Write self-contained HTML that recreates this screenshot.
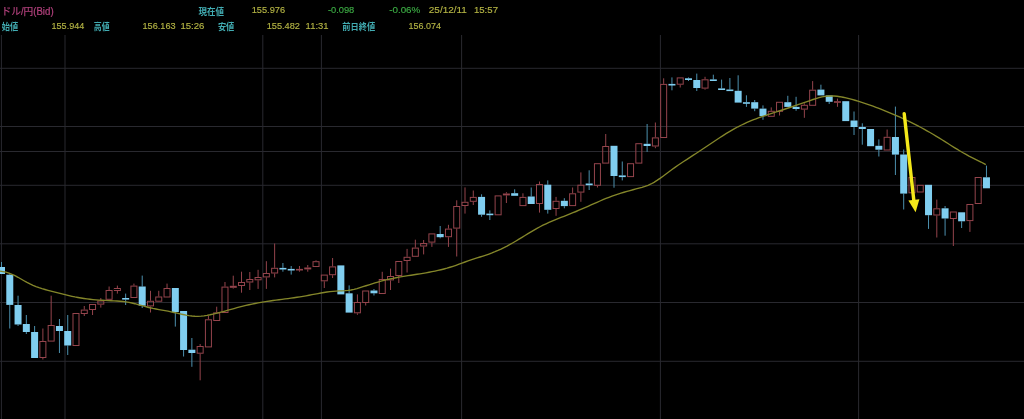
<!DOCTYPE html>
<html><head><meta charset="utf-8"><title>ドル/円 チャート</title>
<style>
html,body{margin:0;padding:0;background:#000;}
body{width:1024px;height:419px;overflow:hidden;}
svg{display:block;}
text{font-family:"Liberation Sans", "Noto Sans CJK JP", sans-serif;}
</style></head>
<body>
<svg width="1024" height="419" viewBox="0 0 1024 419">
<rect width="1024" height="419" fill="#000"/>
<g style="filter:blur(0.3px)">
<g>
<line x1="0" y1="68.3" x2="1024" y2="68.3" stroke="#29292f" stroke-width="1"/>
<line x1="0" y1="126.5" x2="1024" y2="126.5" stroke="#29292f" stroke-width="1"/>
<line x1="0" y1="151.5" x2="1024" y2="151.5" stroke="#29292f" stroke-width="1"/>
<line x1="0" y1="185.3" x2="1024" y2="185.3" stroke="#29292f" stroke-width="1"/>
<line x1="0" y1="243.8" x2="1024" y2="243.8" stroke="#29292f" stroke-width="1"/>
<line x1="0" y1="302.5" x2="1024" y2="302.5" stroke="#29292f" stroke-width="1"/>
<line x1="0" y1="361.3" x2="1024" y2="361.3" stroke="#29292f" stroke-width="1"/>
<line x1="1.4" y1="35" x2="1.4" y2="419" stroke="#29292f" stroke-width="1"/>
<line x1="65.0" y1="35" x2="65.0" y2="419" stroke="#29292f" stroke-width="1"/>
<line x1="262.8" y1="35" x2="262.8" y2="419" stroke="#29292f" stroke-width="1"/>
<line x1="321.4" y1="35" x2="321.4" y2="419" stroke="#29292f" stroke-width="1"/>
<line x1="461.6" y1="35" x2="461.6" y2="419" stroke="#29292f" stroke-width="1"/>
<line x1="660.4" y1="35" x2="660.4" y2="419" stroke="#29292f" stroke-width="1"/>
<line x1="858.6" y1="35" x2="858.6" y2="419" stroke="#29292f" stroke-width="1"/>
</g>
<g>
<line x1="1.50" y1="262.0" x2="1.50" y2="267.0" stroke="#4c90ae" stroke-width="1"/>
<rect x="-2.00" y="267.0" width="7.0" height="7.0" fill="#80cef0"/>
<line x1="9.78" y1="274.0" x2="9.78" y2="274.7" stroke="#4c90ae" stroke-width="1"/>
<line x1="9.78" y1="304.9" x2="9.78" y2="328.5" stroke="#4c90ae" stroke-width="1"/>
<rect x="6.28" y="274.7" width="7.0" height="30.2" fill="#80cef0"/>
<line x1="18.05" y1="295.7" x2="18.05" y2="305.0" stroke="#4c90ae" stroke-width="1"/>
<line x1="18.05" y1="324.5" x2="18.05" y2="326.0" stroke="#4c90ae" stroke-width="1"/>
<rect x="14.55" y="305.0" width="7.0" height="19.5" fill="#80cef0"/>
<line x1="26.33" y1="315.0" x2="26.33" y2="324.0" stroke="#4c90ae" stroke-width="1"/>
<line x1="26.33" y1="332.0" x2="26.33" y2="334.0" stroke="#4c90ae" stroke-width="1"/>
<rect x="22.83" y="324.0" width="7.0" height="8.0" fill="#80cef0"/>
<line x1="34.61" y1="326.0" x2="34.61" y2="332.0" stroke="#4c90ae" stroke-width="1"/>
<rect x="31.11" y="332.0" width="7.0" height="26.0" fill="#80cef0"/>
<line x1="42.88" y1="328.5" x2="42.88" y2="341.0" stroke="#94444c" stroke-width="1"/>
<line x1="42.88" y1="358.0" x2="42.88" y2="359.5" stroke="#94444c" stroke-width="1"/>
<rect x="39.88" y="341.5" width="6.0" height="16.0" fill="none" stroke="#94444c" stroke-width="1"/>
<line x1="51.16" y1="295.7" x2="51.16" y2="325.0" stroke="#94444c" stroke-width="1"/>
<rect x="48.16" y="325.5" width="6.0" height="15.6" fill="none" stroke="#94444c" stroke-width="1"/>
<line x1="59.44" y1="319.0" x2="59.44" y2="326.0" stroke="#4c90ae" stroke-width="1"/>
<line x1="59.44" y1="331.0" x2="59.44" y2="353.0" stroke="#4c90ae" stroke-width="1"/>
<rect x="55.94" y="326.0" width="7.0" height="5.0" fill="#80cef0"/>
<line x1="67.72" y1="315.0" x2="67.72" y2="331.0" stroke="#4c90ae" stroke-width="1"/>
<line x1="67.72" y1="345.5" x2="67.72" y2="355.0" stroke="#4c90ae" stroke-width="1"/>
<rect x="64.22" y="331.0" width="7.0" height="14.5" fill="#80cef0"/>
<rect x="72.99" y="313.5" width="6.0" height="32.0" fill="none" stroke="#94444c" stroke-width="1"/>
<line x1="84.27" y1="306.0" x2="84.27" y2="309.6" stroke="#94444c" stroke-width="1"/>
<line x1="84.27" y1="314.0" x2="84.27" y2="316.0" stroke="#94444c" stroke-width="1"/>
<rect x="81.27" y="310.1" width="6.0" height="3.4" fill="none" stroke="#94444c" stroke-width="1"/>
<line x1="92.55" y1="310.0" x2="92.55" y2="315.0" stroke="#94444c" stroke-width="1"/>
<rect x="89.55" y="304.5" width="6.0" height="5.0" fill="none" stroke="#94444c" stroke-width="1"/>
<line x1="100.82" y1="298.0" x2="100.82" y2="300.5" stroke="#94444c" stroke-width="1"/>
<line x1="100.82" y1="304.6" x2="100.82" y2="307.6" stroke="#94444c" stroke-width="1"/>
<rect x="97.82" y="301.0" width="6.0" height="3.1" fill="none" stroke="#94444c" stroke-width="1"/>
<line x1="109.10" y1="286.5" x2="109.10" y2="290.0" stroke="#94444c" stroke-width="1"/>
<rect x="106.10" y="290.5" width="6.0" height="8.8" fill="none" stroke="#94444c" stroke-width="1"/>
<line x1="117.38" y1="285.6" x2="117.38" y2="288.0" stroke="#94444c" stroke-width="1"/>
<line x1="117.38" y1="291.0" x2="117.38" y2="293.6" stroke="#94444c" stroke-width="1"/>
<rect x="114.38" y="288.5" width="6.0" height="2.0" fill="none" stroke="#94444c" stroke-width="1"/>
<line x1="125.65" y1="293.6" x2="125.65" y2="298.0" stroke="#4c90ae" stroke-width="1"/>
<line x1="125.65" y1="299.4" x2="125.65" y2="305.0" stroke="#4c90ae" stroke-width="1"/>
<rect x="122.15" y="298.0" width="7.0" height="1.6" fill="#80cef0"/>
<line x1="133.93" y1="283.6" x2="133.93" y2="285.6" stroke="#94444c" stroke-width="1"/>
<rect x="130.93" y="286.1" width="6.0" height="11.4" fill="none" stroke="#94444c" stroke-width="1"/>
<line x1="142.21" y1="275.6" x2="142.21" y2="286.5" stroke="#4c90ae" stroke-width="1"/>
<line x1="142.21" y1="305.7" x2="142.21" y2="308.0" stroke="#4c90ae" stroke-width="1"/>
<rect x="138.71" y="286.5" width="7.0" height="19.2" fill="#80cef0"/>
<line x1="150.49" y1="290.8" x2="150.49" y2="300.8" stroke="#94444c" stroke-width="1"/>
<line x1="150.49" y1="306.4" x2="150.49" y2="312.5" stroke="#94444c" stroke-width="1"/>
<rect x="147.49" y="301.3" width="6.0" height="4.6" fill="none" stroke="#94444c" stroke-width="1"/>
<line x1="158.76" y1="290.8" x2="158.76" y2="296.5" stroke="#94444c" stroke-width="1"/>
<rect x="155.76" y="297.0" width="6.0" height="4.2" fill="none" stroke="#94444c" stroke-width="1"/>
<line x1="167.04" y1="283.6" x2="167.04" y2="288.0" stroke="#94444c" stroke-width="1"/>
<rect x="164.04" y="288.5" width="6.0" height="8.5" fill="none" stroke="#94444c" stroke-width="1"/>
<line x1="175.32" y1="312.0" x2="175.32" y2="326.6" stroke="#4c90ae" stroke-width="1"/>
<rect x="171.82" y="288.0" width="7.0" height="24.0" fill="#80cef0"/>
<line x1="183.59" y1="350.0" x2="183.59" y2="356.5" stroke="#4c90ae" stroke-width="1"/>
<rect x="180.09" y="311.0" width="7.0" height="39.0" fill="#80cef0"/>
<line x1="191.87" y1="338.0" x2="191.87" y2="349.7" stroke="#4c90ae" stroke-width="1"/>
<line x1="191.87" y1="353.0" x2="191.87" y2="366.8" stroke="#4c90ae" stroke-width="1"/>
<rect x="188.37" y="349.7" width="7.0" height="3.3" fill="#80cef0"/>
<line x1="200.15" y1="344.0" x2="200.15" y2="346.0" stroke="#94444c" stroke-width="1"/>
<line x1="200.15" y1="353.7" x2="200.15" y2="380.3" stroke="#94444c" stroke-width="1"/>
<rect x="197.15" y="346.5" width="6.0" height="6.7" fill="none" stroke="#94444c" stroke-width="1"/>
<line x1="208.42" y1="315.8" x2="208.42" y2="319.3" stroke="#94444c" stroke-width="1"/>
<rect x="205.42" y="319.8" width="6.0" height="27.1" fill="none" stroke="#94444c" stroke-width="1"/>
<line x1="216.70" y1="306.7" x2="216.70" y2="312.4" stroke="#94444c" stroke-width="1"/>
<rect x="213.70" y="312.9" width="6.0" height="7.6" fill="none" stroke="#94444c" stroke-width="1"/>
<line x1="224.98" y1="282.0" x2="224.98" y2="286.6" stroke="#94444c" stroke-width="1"/>
<rect x="221.98" y="287.1" width="6.0" height="25.4" fill="none" stroke="#94444c" stroke-width="1"/>
<line x1="233.26" y1="275.7" x2="233.26" y2="285.8" stroke="#94444c" stroke-width="1"/>
<line x1="233.26" y1="287.8" x2="233.26" y2="288.6" stroke="#94444c" stroke-width="1"/>
<rect x="230.26" y="286.3" width="6.0" height="1.0" fill="none" stroke="#94444c" stroke-width="1"/>
<line x1="241.53" y1="271.7" x2="241.53" y2="282.0" stroke="#94444c" stroke-width="1"/>
<line x1="241.53" y1="286.0" x2="241.53" y2="292.7" stroke="#94444c" stroke-width="1"/>
<rect x="238.53" y="282.5" width="6.0" height="3.0" fill="none" stroke="#94444c" stroke-width="1"/>
<line x1="249.81" y1="272.0" x2="249.81" y2="279.0" stroke="#94444c" stroke-width="1"/>
<line x1="249.81" y1="282.5" x2="249.81" y2="290.0" stroke="#94444c" stroke-width="1"/>
<rect x="246.81" y="279.5" width="6.0" height="2.5" fill="none" stroke="#94444c" stroke-width="1"/>
<line x1="258.09" y1="269.8" x2="258.09" y2="277.0" stroke="#94444c" stroke-width="1"/>
<line x1="258.09" y1="280.3" x2="258.09" y2="288.9" stroke="#94444c" stroke-width="1"/>
<rect x="255.09" y="277.5" width="6.0" height="2.3" fill="none" stroke="#94444c" stroke-width="1"/>
<line x1="266.36" y1="261.2" x2="266.36" y2="273.0" stroke="#94444c" stroke-width="1"/>
<line x1="266.36" y1="277.4" x2="266.36" y2="288.9" stroke="#94444c" stroke-width="1"/>
<rect x="263.36" y="273.5" width="6.0" height="3.4" fill="none" stroke="#94444c" stroke-width="1"/>
<line x1="274.64" y1="243.5" x2="274.64" y2="267.8" stroke="#94444c" stroke-width="1"/>
<line x1="274.64" y1="273.5" x2="274.64" y2="277.4" stroke="#94444c" stroke-width="1"/>
<rect x="271.64" y="268.3" width="6.0" height="4.7" fill="none" stroke="#94444c" stroke-width="1"/>
<line x1="282.92" y1="263.0" x2="282.92" y2="267.9" stroke="#4c90ae" stroke-width="1"/>
<line x1="282.92" y1="269.2" x2="282.92" y2="271.7" stroke="#4c90ae" stroke-width="1"/>
<rect x="279.42" y="267.9" width="7.0" height="1.6" fill="#80cef0"/>
<line x1="291.19" y1="266.0" x2="291.19" y2="268.9" stroke="#4c90ae" stroke-width="1"/>
<line x1="291.19" y1="270.2" x2="291.19" y2="274.6" stroke="#4c90ae" stroke-width="1"/>
<rect x="287.69" y="268.9" width="7.0" height="1.6" fill="#80cef0"/>
<line x1="299.47" y1="266.0" x2="299.47" y2="268.9" stroke="#94444c" stroke-width="1"/>
<line x1="299.47" y1="270.2" x2="299.47" y2="271.7" stroke="#94444c" stroke-width="1"/>
<rect x="296.47" y="269.4" width="6.0" height="0.6" fill="none" stroke="#94444c" stroke-width="1"/>
<line x1="307.75" y1="265.0" x2="307.75" y2="267.5" stroke="#94444c" stroke-width="1"/>
<line x1="307.75" y1="269.4" x2="307.75" y2="271.7" stroke="#94444c" stroke-width="1"/>
<rect x="304.75" y="268.0" width="6.0" height="0.9" fill="none" stroke="#94444c" stroke-width="1"/>
<line x1="316.03" y1="260.3" x2="316.03" y2="261.2" stroke="#94444c" stroke-width="1"/>
<rect x="313.03" y="261.7" width="6.0" height="4.8" fill="none" stroke="#94444c" stroke-width="1"/>
<line x1="324.30" y1="281.3" x2="324.30" y2="288.0" stroke="#94444c" stroke-width="1"/>
<rect x="321.30" y="275.1" width="6.0" height="5.7" fill="none" stroke="#94444c" stroke-width="1"/>
<line x1="332.58" y1="258.0" x2="332.58" y2="266.4" stroke="#94444c" stroke-width="1"/>
<line x1="332.58" y1="275.2" x2="332.58" y2="278.0" stroke="#94444c" stroke-width="1"/>
<rect x="329.58" y="266.9" width="6.0" height="7.8" fill="none" stroke="#94444c" stroke-width="1"/>
<rect x="337.36" y="265.4" width="7.0" height="29.0" fill="#80cef0"/>
<line x1="349.13" y1="285.4" x2="349.13" y2="293.3" stroke="#4c90ae" stroke-width="1"/>
<rect x="345.63" y="293.3" width="7.0" height="19.3" fill="#80cef0"/>
<line x1="357.41" y1="294.4" x2="357.41" y2="302.0" stroke="#94444c" stroke-width="1"/>
<line x1="357.41" y1="313.3" x2="357.41" y2="314.8" stroke="#94444c" stroke-width="1"/>
<rect x="354.41" y="302.5" width="6.0" height="10.3" fill="none" stroke="#94444c" stroke-width="1"/>
<line x1="365.69" y1="303.0" x2="365.69" y2="305.5" stroke="#94444c" stroke-width="1"/>
<rect x="362.69" y="291.0" width="6.0" height="11.5" fill="none" stroke="#94444c" stroke-width="1"/>
<line x1="373.96" y1="289.0" x2="373.96" y2="290.5" stroke="#4c90ae" stroke-width="1"/>
<line x1="373.96" y1="293.3" x2="373.96" y2="295.5" stroke="#4c90ae" stroke-width="1"/>
<rect x="370.46" y="290.5" width="7.0" height="2.8" fill="#80cef0"/>
<line x1="382.24" y1="271.8" x2="382.24" y2="279.0" stroke="#94444c" stroke-width="1"/>
<rect x="379.24" y="279.5" width="6.0" height="14.0" fill="none" stroke="#94444c" stroke-width="1"/>
<line x1="390.52" y1="268.6" x2="390.52" y2="276.0" stroke="#94444c" stroke-width="1"/>
<line x1="390.52" y1="280.4" x2="390.52" y2="290.0" stroke="#94444c" stroke-width="1"/>
<rect x="387.52" y="276.5" width="6.0" height="3.4" fill="none" stroke="#94444c" stroke-width="1"/>
<line x1="398.80" y1="276.0" x2="398.80" y2="283.0" stroke="#94444c" stroke-width="1"/>
<rect x="395.80" y="261.5" width="6.0" height="14.0" fill="none" stroke="#94444c" stroke-width="1"/>
<line x1="407.07" y1="248.9" x2="407.07" y2="256.8" stroke="#94444c" stroke-width="1"/>
<line x1="407.07" y1="261.0" x2="407.07" y2="272.5" stroke="#94444c" stroke-width="1"/>
<rect x="404.07" y="257.3" width="6.0" height="3.2" fill="none" stroke="#94444c" stroke-width="1"/>
<line x1="415.35" y1="239.7" x2="415.35" y2="247.6" stroke="#94444c" stroke-width="1"/>
<rect x="412.35" y="248.1" width="6.0" height="8.2" fill="none" stroke="#94444c" stroke-width="1"/>
<line x1="423.63" y1="240.0" x2="423.63" y2="243.0" stroke="#94444c" stroke-width="1"/>
<line x1="423.63" y1="246.5" x2="423.63" y2="254.4" stroke="#94444c" stroke-width="1"/>
<rect x="420.63" y="243.5" width="6.0" height="2.5" fill="none" stroke="#94444c" stroke-width="1"/>
<line x1="431.90" y1="242.6" x2="431.90" y2="246.9" stroke="#94444c" stroke-width="1"/>
<rect x="428.90" y="233.9" width="6.0" height="8.2" fill="none" stroke="#94444c" stroke-width="1"/>
<line x1="440.18" y1="226.0" x2="440.18" y2="234.0" stroke="#4c90ae" stroke-width="1"/>
<line x1="440.18" y1="237.2" x2="440.18" y2="238.3" stroke="#4c90ae" stroke-width="1"/>
<rect x="436.68" y="234.0" width="7.0" height="3.2" fill="#80cef0"/>
<line x1="448.46" y1="224.8" x2="448.46" y2="228.6" stroke="#94444c" stroke-width="1"/>
<line x1="448.46" y1="237.2" x2="448.46" y2="246.9" stroke="#94444c" stroke-width="1"/>
<rect x="445.46" y="229.1" width="6.0" height="7.6" fill="none" stroke="#94444c" stroke-width="1"/>
<line x1="456.73" y1="200.3" x2="456.73" y2="206.0" stroke="#94444c" stroke-width="1"/>
<line x1="456.73" y1="228.6" x2="456.73" y2="256.5" stroke="#94444c" stroke-width="1"/>
<rect x="453.73" y="206.5" width="6.0" height="21.6" fill="none" stroke="#94444c" stroke-width="1"/>
<line x1="465.01" y1="187.4" x2="465.01" y2="201.8" stroke="#94444c" stroke-width="1"/>
<line x1="465.01" y1="206.0" x2="465.01" y2="213.6" stroke="#94444c" stroke-width="1"/>
<rect x="462.01" y="202.3" width="6.0" height="3.2" fill="none" stroke="#94444c" stroke-width="1"/>
<line x1="473.29" y1="190.5" x2="473.29" y2="196.9" stroke="#94444c" stroke-width="1"/>
<line x1="473.29" y1="201.8" x2="473.29" y2="205.0" stroke="#94444c" stroke-width="1"/>
<rect x="470.29" y="197.4" width="6.0" height="3.9" fill="none" stroke="#94444c" stroke-width="1"/>
<line x1="481.57" y1="194.3" x2="481.57" y2="196.9" stroke="#4c90ae" stroke-width="1"/>
<line x1="481.57" y1="214.7" x2="481.57" y2="216.8" stroke="#4c90ae" stroke-width="1"/>
<rect x="478.07" y="196.9" width="7.0" height="17.8" fill="#80cef0"/>
<line x1="489.84" y1="210.4" x2="489.84" y2="213.6" stroke="#4c90ae" stroke-width="1"/>
<line x1="489.84" y1="215.1" x2="489.84" y2="220.0" stroke="#4c90ae" stroke-width="1"/>
<rect x="486.34" y="213.6" width="7.0" height="1.6" fill="#80cef0"/>
<rect x="495.12" y="195.9" width="6.0" height="18.9" fill="none" stroke="#94444c" stroke-width="1"/>
<line x1="506.40" y1="192.2" x2="506.40" y2="193.5" stroke="#94444c" stroke-width="1"/>
<line x1="506.40" y1="195.4" x2="506.40" y2="203.0" stroke="#94444c" stroke-width="1"/>
<rect x="503.40" y="194.0" width="6.0" height="0.9" fill="none" stroke="#94444c" stroke-width="1"/>
<line x1="514.67" y1="189.3" x2="514.67" y2="193.2" stroke="#4c90ae" stroke-width="1"/>
<rect x="511.17" y="193.2" width="7.0" height="2.6" fill="#80cef0"/>
<line x1="522.95" y1="193.3" x2="522.95" y2="196.9" stroke="#94444c" stroke-width="1"/>
<rect x="519.95" y="197.4" width="6.0" height="8.2" fill="none" stroke="#94444c" stroke-width="1"/>
<line x1="531.23" y1="187.5" x2="531.23" y2="196.5" stroke="#4c90ae" stroke-width="1"/>
<rect x="527.73" y="196.5" width="7.0" height="7.5" fill="#80cef0"/>
<line x1="539.50" y1="181.5" x2="539.50" y2="184.0" stroke="#94444c" stroke-width="1"/>
<line x1="539.50" y1="204.0" x2="539.50" y2="212.6" stroke="#94444c" stroke-width="1"/>
<rect x="536.50" y="184.5" width="6.0" height="19.0" fill="none" stroke="#94444c" stroke-width="1"/>
<line x1="547.78" y1="180.4" x2="547.78" y2="184.7" stroke="#4c90ae" stroke-width="1"/>
<line x1="547.78" y1="209.8" x2="547.78" y2="213.6" stroke="#4c90ae" stroke-width="1"/>
<rect x="544.28" y="184.7" width="7.0" height="25.1" fill="#80cef0"/>
<line x1="556.06" y1="196.9" x2="556.06" y2="200.8" stroke="#94444c" stroke-width="1"/>
<line x1="556.06" y1="209.0" x2="556.06" y2="215.8" stroke="#94444c" stroke-width="1"/>
<rect x="553.06" y="201.3" width="6.0" height="7.2" fill="none" stroke="#94444c" stroke-width="1"/>
<line x1="564.34" y1="198.2" x2="564.34" y2="200.8" stroke="#4c90ae" stroke-width="1"/>
<line x1="564.34" y1="206.1" x2="564.34" y2="208.3" stroke="#4c90ae" stroke-width="1"/>
<rect x="560.84" y="200.8" width="7.0" height="5.3" fill="#80cef0"/>
<line x1="572.61" y1="187.5" x2="572.61" y2="193.3" stroke="#94444c" stroke-width="1"/>
<rect x="569.61" y="193.8" width="6.0" height="11.8" fill="none" stroke="#94444c" stroke-width="1"/>
<line x1="580.89" y1="172.4" x2="580.89" y2="184.7" stroke="#94444c" stroke-width="1"/>
<line x1="580.89" y1="192.6" x2="580.89" y2="201.8" stroke="#94444c" stroke-width="1"/>
<rect x="577.89" y="185.2" width="6.0" height="6.9" fill="none" stroke="#94444c" stroke-width="1"/>
<line x1="589.17" y1="170.3" x2="589.17" y2="183.5" stroke="#4c90ae" stroke-width="1"/>
<line x1="589.17" y1="185.2" x2="589.17" y2="190.0" stroke="#4c90ae" stroke-width="1"/>
<rect x="585.67" y="183.5" width="7.0" height="1.7" fill="#80cef0"/>
<line x1="597.44" y1="185.8" x2="597.44" y2="187.5" stroke="#94444c" stroke-width="1"/>
<rect x="594.44" y="163.7" width="6.0" height="21.6" fill="none" stroke="#94444c" stroke-width="1"/>
<line x1="605.72" y1="134.0" x2="605.72" y2="146.0" stroke="#94444c" stroke-width="1"/>
<rect x="602.72" y="146.5" width="6.0" height="16.6" fill="none" stroke="#94444c" stroke-width="1"/>
<line x1="614.00" y1="176.0" x2="614.00" y2="187.7" stroke="#4c90ae" stroke-width="1"/>
<rect x="610.50" y="145.8" width="7.0" height="30.2" fill="#80cef0"/>
<line x1="622.27" y1="161.5" x2="622.27" y2="175.4" stroke="#4c90ae" stroke-width="1"/>
<line x1="622.27" y1="177.1" x2="622.27" y2="180.4" stroke="#4c90ae" stroke-width="1"/>
<rect x="618.77" y="175.4" width="7.0" height="1.7" fill="#80cef0"/>
<rect x="627.55" y="163.7" width="6.0" height="12.9" fill="none" stroke="#94444c" stroke-width="1"/>
<rect x="635.83" y="143.7" width="6.0" height="19.4" fill="none" stroke="#94444c" stroke-width="1"/>
<line x1="647.11" y1="124.0" x2="647.11" y2="143.8" stroke="#4c90ae" stroke-width="1"/>
<line x1="647.11" y1="146.0" x2="647.11" y2="151.9" stroke="#4c90ae" stroke-width="1"/>
<rect x="643.61" y="143.8" width="7.0" height="2.2" fill="#80cef0"/>
<line x1="655.38" y1="122.5" x2="655.38" y2="137.4" stroke="#94444c" stroke-width="1"/>
<line x1="655.38" y1="146.5" x2="655.38" y2="148.2" stroke="#94444c" stroke-width="1"/>
<rect x="652.38" y="137.9" width="6.0" height="8.1" fill="none" stroke="#94444c" stroke-width="1"/>
<line x1="663.66" y1="78.3" x2="663.66" y2="83.9" stroke="#94444c" stroke-width="1"/>
<rect x="660.66" y="84.4" width="6.0" height="53.1" fill="none" stroke="#94444c" stroke-width="1"/>
<line x1="671.94" y1="77.4" x2="671.94" y2="83.9" stroke="#4c90ae" stroke-width="1"/>
<line x1="671.94" y1="85.0" x2="671.94" y2="90.3" stroke="#4c90ae" stroke-width="1"/>
<rect x="668.44" y="83.9" width="7.0" height="1.6" fill="#80cef0"/>
<line x1="680.21" y1="84.7" x2="680.21" y2="87.5" stroke="#94444c" stroke-width="1"/>
<rect x="677.21" y="77.9" width="6.0" height="6.3" fill="none" stroke="#94444c" stroke-width="1"/>
<line x1="688.49" y1="77.4" x2="688.49" y2="78.3" stroke="#4c90ae" stroke-width="1"/>
<line x1="688.49" y1="80.0" x2="688.49" y2="81.0" stroke="#4c90ae" stroke-width="1"/>
<rect x="684.99" y="78.3" width="7.0" height="1.7" fill="#80cef0"/>
<line x1="696.77" y1="73.6" x2="696.77" y2="80.0" stroke="#4c90ae" stroke-width="1"/>
<line x1="696.77" y1="88.0" x2="696.77" y2="91.0" stroke="#4c90ae" stroke-width="1"/>
<rect x="693.27" y="80.0" width="7.0" height="8.0" fill="#80cef0"/>
<line x1="705.04" y1="76.8" x2="705.04" y2="79.3" stroke="#94444c" stroke-width="1"/>
<line x1="705.04" y1="88.6" x2="705.04" y2="89.7" stroke="#94444c" stroke-width="1"/>
<rect x="702.04" y="79.8" width="6.0" height="8.3" fill="none" stroke="#94444c" stroke-width="1"/>
<line x1="713.32" y1="74.7" x2="713.32" y2="79.4" stroke="#4c90ae" stroke-width="1"/>
<line x1="713.32" y1="80.5" x2="713.32" y2="81.0" stroke="#4c90ae" stroke-width="1"/>
<rect x="709.82" y="79.4" width="7.0" height="1.6" fill="#80cef0"/>
<line x1="721.60" y1="79.6" x2="721.60" y2="88.4" stroke="#4c90ae" stroke-width="1"/>
<rect x="718.10" y="88.4" width="7.0" height="1.6" fill="#80cef0"/>
<line x1="729.88" y1="78.0" x2="729.88" y2="89.5" stroke="#4c90ae" stroke-width="1"/>
<rect x="726.38" y="89.5" width="7.0" height="1.6" fill="#80cef0"/>
<line x1="738.15" y1="75.3" x2="738.15" y2="90.8" stroke="#4c90ae" stroke-width="1"/>
<rect x="734.65" y="90.8" width="7.0" height="11.8" fill="#80cef0"/>
<line x1="746.43" y1="95.3" x2="746.43" y2="102.2" stroke="#4c90ae" stroke-width="1"/>
<line x1="746.43" y1="103.3" x2="746.43" y2="106.9" stroke="#4c90ae" stroke-width="1"/>
<rect x="742.93" y="102.2" width="7.0" height="1.6" fill="#80cef0"/>
<line x1="754.71" y1="100.0" x2="754.71" y2="102.2" stroke="#4c90ae" stroke-width="1"/>
<line x1="754.71" y1="108.6" x2="754.71" y2="111.2" stroke="#4c90ae" stroke-width="1"/>
<rect x="751.21" y="102.2" width="7.0" height="6.4" fill="#80cef0"/>
<line x1="762.98" y1="105.4" x2="762.98" y2="108.6" stroke="#4c90ae" stroke-width="1"/>
<line x1="762.98" y1="116.1" x2="762.98" y2="119.8" stroke="#4c90ae" stroke-width="1"/>
<rect x="759.48" y="108.6" width="7.0" height="7.5" fill="#80cef0"/>
<line x1="771.26" y1="107.4" x2="771.26" y2="110.8" stroke="#94444c" stroke-width="1"/>
<rect x="768.26" y="111.3" width="6.0" height="5.0" fill="none" stroke="#94444c" stroke-width="1"/>
<line x1="779.54" y1="111.8" x2="779.54" y2="115.5" stroke="#94444c" stroke-width="1"/>
<rect x="776.54" y="102.3" width="6.0" height="9.0" fill="none" stroke="#94444c" stroke-width="1"/>
<line x1="787.81" y1="95.8" x2="787.81" y2="102.2" stroke="#4c90ae" stroke-width="1"/>
<rect x="784.31" y="102.2" width="7.0" height="4.7" fill="#80cef0"/>
<line x1="796.09" y1="96.8" x2="796.09" y2="106.9" stroke="#4c90ae" stroke-width="1"/>
<line x1="796.09" y1="109.0" x2="796.09" y2="110.8" stroke="#4c90ae" stroke-width="1"/>
<rect x="792.59" y="106.9" width="7.0" height="2.1" fill="#80cef0"/>
<line x1="804.37" y1="103.3" x2="804.37" y2="104.8" stroke="#94444c" stroke-width="1"/>
<line x1="804.37" y1="109.6" x2="804.37" y2="117.8" stroke="#94444c" stroke-width="1"/>
<rect x="801.37" y="105.3" width="6.0" height="3.8" fill="none" stroke="#94444c" stroke-width="1"/>
<line x1="812.65" y1="81.1" x2="812.65" y2="89.7" stroke="#94444c" stroke-width="1"/>
<rect x="809.65" y="90.2" width="6.0" height="15.1" fill="none" stroke="#94444c" stroke-width="1"/>
<line x1="820.92" y1="84.7" x2="820.92" y2="89.6" stroke="#4c90ae" stroke-width="1"/>
<rect x="817.42" y="89.6" width="7.0" height="5.8" fill="#80cef0"/>
<line x1="829.20" y1="101.8" x2="829.20" y2="104.0" stroke="#4c90ae" stroke-width="1"/>
<rect x="825.70" y="95.4" width="7.0" height="6.4" fill="#80cef0"/>
<line x1="837.48" y1="98.6" x2="837.48" y2="101.2" stroke="#94444c" stroke-width="1"/>
<line x1="837.48" y1="102.5" x2="837.48" y2="106.8" stroke="#94444c" stroke-width="1"/>
<rect x="834.48" y="101.7" width="6.0" height="0.6" fill="none" stroke="#94444c" stroke-width="1"/>
<rect x="842.25" y="101.2" width="7.0" height="19.9" fill="#80cef0"/>
<line x1="854.03" y1="111.5" x2="854.03" y2="120.5" stroke="#4c90ae" stroke-width="1"/>
<line x1="854.03" y1="127.0" x2="854.03" y2="135.0" stroke="#4c90ae" stroke-width="1"/>
<rect x="850.53" y="120.5" width="7.0" height="6.5" fill="#80cef0"/>
<line x1="862.31" y1="123.3" x2="862.31" y2="127.0" stroke="#4c90ae" stroke-width="1"/>
<line x1="862.31" y1="129.0" x2="862.31" y2="144.7" stroke="#4c90ae" stroke-width="1"/>
<rect x="858.81" y="127.0" width="7.0" height="2.0" fill="#80cef0"/>
<rect x="867.08" y="129.0" width="7.0" height="17.2" fill="#80cef0"/>
<line x1="878.86" y1="139.4" x2="878.86" y2="145.8" stroke="#4c90ae" stroke-width="1"/>
<line x1="878.86" y1="149.7" x2="878.86" y2="156.5" stroke="#4c90ae" stroke-width="1"/>
<rect x="875.36" y="145.8" width="7.0" height="3.9" fill="#80cef0"/>
<line x1="887.14" y1="129.5" x2="887.14" y2="136.8" stroke="#94444c" stroke-width="1"/>
<rect x="884.14" y="137.3" width="6.0" height="12.7" fill="none" stroke="#94444c" stroke-width="1"/>
<line x1="895.42" y1="106.6" x2="895.42" y2="137.0" stroke="#4c90ae" stroke-width="1"/>
<line x1="895.42" y1="154.6" x2="895.42" y2="175.0" stroke="#4c90ae" stroke-width="1"/>
<rect x="891.92" y="137.0" width="7.0" height="17.6" fill="#80cef0"/>
<line x1="903.69" y1="149.5" x2="903.69" y2="154.5" stroke="#4c90ae" stroke-width="1"/>
<line x1="903.69" y1="193.6" x2="903.69" y2="209.5" stroke="#4c90ae" stroke-width="1"/>
<rect x="900.19" y="154.5" width="7.0" height="39.1" fill="#80cef0"/>
<rect x="908.97" y="177.5" width="6.0" height="15.3" fill="none" stroke="#94444c" stroke-width="1"/>
<rect x="917.25" y="185.3" width="6.0" height="6.7" fill="none" stroke="#94444c" stroke-width="1"/>
<line x1="928.52" y1="215.2" x2="928.52" y2="228.9" stroke="#4c90ae" stroke-width="1"/>
<rect x="925.02" y="184.8" width="7.0" height="30.4" fill="#80cef0"/>
<line x1="936.80" y1="199.6" x2="936.80" y2="208.3" stroke="#94444c" stroke-width="1"/>
<line x1="936.80" y1="215.5" x2="936.80" y2="237.5" stroke="#94444c" stroke-width="1"/>
<rect x="933.80" y="208.8" width="6.0" height="6.2" fill="none" stroke="#94444c" stroke-width="1"/>
<line x1="945.08" y1="206.0" x2="945.08" y2="208.3" stroke="#4c90ae" stroke-width="1"/>
<line x1="945.08" y1="218.5" x2="945.08" y2="235.7" stroke="#4c90ae" stroke-width="1"/>
<rect x="941.58" y="208.3" width="7.0" height="10.2" fill="#80cef0"/>
<line x1="953.35" y1="219.0" x2="953.35" y2="246.0" stroke="#94444c" stroke-width="1"/>
<rect x="950.35" y="212.0" width="6.0" height="6.5" fill="none" stroke="#94444c" stroke-width="1"/>
<line x1="961.63" y1="221.3" x2="961.63" y2="228.0" stroke="#4c90ae" stroke-width="1"/>
<rect x="958.13" y="212.3" width="7.0" height="9.0" fill="#80cef0"/>
<line x1="969.91" y1="221.1" x2="969.91" y2="231.9" stroke="#94444c" stroke-width="1"/>
<rect x="966.91" y="204.5" width="6.0" height="16.1" fill="none" stroke="#94444c" stroke-width="1"/>
<rect x="975.19" y="177.5" width="6.0" height="26.0" fill="none" stroke="#94444c" stroke-width="1"/>
<line x1="986.46" y1="165.6" x2="986.46" y2="177.3" stroke="#4c90ae" stroke-width="1"/>
<rect x="982.96" y="177.3" width="7.0" height="11.0" fill="#80cef0"/>
</g>
<polyline points="0.0,271.20 3.0,271.55 6.0,272.19 9.0,273.11 12.0,274.28 15.0,275.68 18.0,277.28 21.0,278.99 24.0,280.72 27.0,282.41 30.0,283.96 33.0,285.33 36.0,286.56 39.0,287.65 42.0,288.63 45.0,289.52 48.0,290.35 51.0,291.13 54.0,291.88 57.0,292.63 60.0,293.40 63.0,294.17 66.0,294.93 69.0,295.65 72.0,296.33 75.0,296.96 78.0,297.52 81.0,298.02 84.0,298.48 87.0,298.88 90.0,299.24 93.0,299.55 96.0,299.83 99.0,300.07 102.0,300.28 105.0,300.45 108.0,300.60 111.0,300.74 114.0,300.88 117.0,301.04 120.0,301.25 123.0,301.53 126.0,301.90 129.0,302.38 132.0,302.99 135.0,303.72 138.0,304.54 141.0,305.38 144.0,306.22 147.0,307.00 150.0,307.74 153.0,308.41 156.0,309.01 159.0,309.55 162.0,310.07 165.0,310.60 168.0,311.18 171.0,311.81 174.0,312.48 177.0,313.16 180.0,313.85 183.0,314.51 186.0,315.12 189.0,315.63 192.0,316.03 195.0,316.28 198.0,316.34 201.0,316.20 204.0,315.85 207.0,315.36 210.0,314.77 213.0,314.11 216.0,313.40 219.0,312.64 222.0,311.85 225.0,311.03 228.0,310.20 231.0,309.36 234.0,308.53 237.0,307.70 240.0,306.90 243.0,306.13 246.0,305.40 249.0,304.72 252.0,304.08 255.0,303.47 258.0,302.91 261.0,302.38 264.0,301.88 267.0,301.41 270.0,300.96 273.0,300.54 276.0,300.13 279.0,299.73 282.0,299.34 285.0,298.95 288.0,298.56 291.0,298.15 294.0,297.73 297.0,297.29 300.0,296.83 303.0,296.33 306.0,295.81 309.0,295.25 312.0,294.68 315.0,294.10 318.0,293.54 321.0,293.00 324.0,292.49 327.0,292.03 330.0,291.64 333.0,291.31 336.0,291.07 339.0,290.92 342.0,290.81 345.0,290.66 348.0,290.42 351.0,290.03 354.0,289.42 357.0,288.62 360.0,287.70 363.0,286.73 366.0,285.74 369.0,284.78 372.0,283.83 375.0,282.92 378.0,282.04 381.0,281.20 384.0,280.40 387.0,279.66 390.0,278.97 393.0,278.33 396.0,277.74 399.0,277.18 402.0,276.66 405.0,276.16 408.0,275.68 411.0,275.21 414.0,274.74 417.0,274.28 420.0,273.80 423.0,273.32 426.0,272.81 429.0,272.28 432.0,271.71 435.0,271.11 438.0,270.46 441.0,269.75 444.0,268.99 447.0,268.17 450.0,267.27 453.0,266.30 456.0,265.27 459.0,264.20 462.0,263.10 465.0,262.00 468.0,260.92 471.0,259.86 474.0,258.85 477.0,257.90 480.0,256.98 483.0,256.06 486.0,255.08 489.0,254.03 492.0,252.91 495.0,251.70 498.0,250.41 501.0,249.04 504.0,247.58 507.0,246.05 510.0,244.43 513.0,242.73 516.0,240.97 519.0,239.17 522.0,237.34 525.0,235.49 528.0,233.66 531.0,231.85 534.0,230.08 537.0,228.38 540.0,226.76 543.0,225.22 546.0,223.78 549.0,222.41 552.0,221.10 555.0,219.84 558.0,218.62 561.0,217.43 564.0,216.26 567.0,215.09 570.0,213.92 573.0,212.72 576.0,211.50 579.0,210.24 582.0,208.94 585.0,207.62 588.0,206.29 591.0,204.96 594.0,203.62 597.0,202.30 600.0,201.00 603.0,199.72 606.0,198.49 609.0,197.30 612.0,196.16 615.0,195.09 618.0,194.08 621.0,193.13 624.0,192.23 627.0,191.37 630.0,190.55 633.0,189.75 636.0,188.96 639.0,188.18 642.0,187.37 645.0,186.45 648.0,185.34 651.0,183.97 654.0,182.31 657.0,180.43 660.0,178.37 663.0,176.19 666.0,173.96 669.0,171.72 672.0,169.53 675.0,167.40 678.0,165.32 681.0,163.29 684.0,161.30 687.0,159.33 690.0,157.37 693.0,155.42 696.0,153.47 699.0,151.49 702.0,149.50 705.0,147.49 708.0,145.47 711.0,143.45 714.0,141.44 717.0,139.45 720.0,137.48 723.0,135.56 726.0,133.68 729.0,131.85 732.0,130.09 735.0,128.40 738.0,126.78 741.0,125.25 744.0,123.80 747.0,122.43 750.0,121.14 753.0,119.93 756.0,118.78 759.0,117.68 762.0,116.63 765.0,115.61 768.0,114.62 771.0,113.65 774.0,112.68 777.0,111.71 780.0,110.74 783.0,109.75 786.0,108.76 789.0,107.76 792.0,106.76 795.0,105.74 798.0,104.72 801.0,103.69 804.0,102.64 807.0,101.59 810.0,100.54 813.0,99.51 816.0,98.55 819.0,97.68 822.0,96.94 825.0,96.37 828.0,96.00 831.0,95.87 834.0,95.97 837.0,96.26 840.0,96.71 843.0,97.27 846.0,97.91 849.0,98.62 852.0,99.39 855.0,100.23 858.0,101.12 861.0,102.05 864.0,103.03 867.0,104.05 870.0,105.09 873.0,106.17 876.0,107.28 879.0,108.43 882.0,109.60 885.0,110.80 888.0,112.03 891.0,113.29 894.0,114.57 897.0,115.88 900.0,117.22 903.0,118.59 906.0,120.00 909.0,121.43 912.0,122.90 915.0,124.40 918.0,125.94 921.0,127.52 924.0,129.14 927.0,130.81 930.0,132.51 933.0,134.26 936.0,136.06 939.0,137.90 942.0,139.77 945.0,141.65 948.0,143.55 951.0,145.45 954.0,147.33 957.0,149.18 960.0,150.99 963.0,152.76 966.0,154.46 969.0,156.09 972.0,157.63 975.0,159.10 978.0,160.54 981.0,162.02 984.0,163.60 985.8,164.62" fill="none" stroke="#84862a" stroke-width="1.35" stroke-linejoin="round"/>
<line x1="904.2" y1="113.6" x2="913.9" y2="201" stroke="#f4e81a" stroke-width="3.4" stroke-linecap="round"/><polygon points="908.4,200.6 919.4,199.2 915.6,212.3" fill="#f4e81a"/>
</g>
<g style="filter:blur(0.25px)">
<text x="1.6" y="14.6" fill="#b4427e" font-size="10.2" font-weight="normal" textLength="52" lengthAdjust="spacingAndGlyphs" stroke="#b4427e" stroke-width="0.2">ドル/円(Bid)</text>
<text x="198.5" y="14.5" fill="#42acb2" font-size="9.0" font-weight="bold" textLength="25.5" lengthAdjust="spacingAndGlyphs">現在値</text>
<text x="251.7" y="13.4" fill="#b4b444" font-size="9.9" font-weight="normal" textLength="33.4" lengthAdjust="spacingAndGlyphs" stroke="#b4b444" stroke-width="0.15">155.976</text>
<text x="327.9" y="13.4" fill="#3cac44" font-size="9.9" font-weight="normal" textLength="26.4" lengthAdjust="spacingAndGlyphs" stroke="#3cac44" stroke-width="0.15">-0.098</text>
<text x="389.2" y="13.4" fill="#3cac44" font-size="9.9" font-weight="normal" textLength="31.1" lengthAdjust="spacingAndGlyphs" stroke="#3cac44" stroke-width="0.15">-0.06%</text>
<text x="428.8" y="13.4" fill="#b4b444" font-size="9.9" font-weight="normal" textLength="38.1" lengthAdjust="spacingAndGlyphs" stroke="#b4b444" stroke-width="0.15">25/12/11</text>
<text x="473.9" y="13.4" fill="#b4b444" font-size="9.9" font-weight="normal" textLength="24.1" lengthAdjust="spacingAndGlyphs" stroke="#b4b444" stroke-width="0.15">15:57</text>
<text x="1.8" y="30" fill="#42acb2" font-size="9.0" font-weight="bold" textLength="16.4" lengthAdjust="spacingAndGlyphs">始値</text>
<text x="51.6" y="29.2" fill="#b4b444" font-size="9.9" font-weight="normal" textLength="32.6" lengthAdjust="spacingAndGlyphs" stroke="#b4b444" stroke-width="0.15">155.944</text>
<text x="93.8" y="30" fill="#42acb2" font-size="9.0" font-weight="bold" textLength="15.8" lengthAdjust="spacingAndGlyphs">高値</text>
<text x="142.5" y="29.2" fill="#b4b444" font-size="9.9" font-weight="normal" textLength="33.2" lengthAdjust="spacingAndGlyphs" stroke="#b4b444" stroke-width="0.15">156.163</text>
<text x="180.4" y="29.2" fill="#b4b444" font-size="9.9" font-weight="normal" textLength="24" lengthAdjust="spacingAndGlyphs" stroke="#b4b444" stroke-width="0.15">15:26</text>
<text x="217.9" y="30" fill="#42acb2" font-size="9.0" font-weight="bold" textLength="16.4" lengthAdjust="spacingAndGlyphs">安値</text>
<text x="266.7" y="29.2" fill="#b4b444" font-size="9.9" font-weight="normal" textLength="33.3" lengthAdjust="spacingAndGlyphs" stroke="#b4b444" stroke-width="0.15">155.482</text>
<text x="305.6" y="29.2" fill="#b4b444" font-size="9.9" font-weight="normal" textLength="22.9" lengthAdjust="spacingAndGlyphs" stroke="#b4b444" stroke-width="0.15">11:31</text>
<text x="342.3" y="30" fill="#42acb2" font-size="9.0" font-weight="bold" textLength="32.9" lengthAdjust="spacingAndGlyphs">前日終値</text>
<text x="408.6" y="29.2" fill="#b4b444" font-size="9.9" font-weight="normal" textLength="32.4" lengthAdjust="spacingAndGlyphs" stroke="#b4b444" stroke-width="0.15">156.074</text>
</g>
</svg>
</body></html>
